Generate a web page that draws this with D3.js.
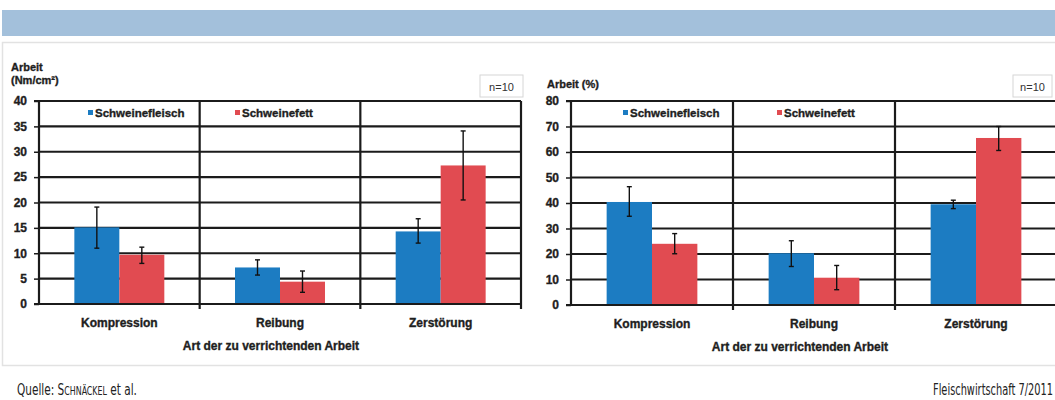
<!DOCTYPE html>
<html><head><meta charset="utf-8">
<script src="https://cdn.jsdelivr.net/npm/d3@7/dist/d3.min.js"></script>
<style>
html,body{margin:0;padding:0;background:#fff;}
svg{display:block;}
</style></head>
<body>
<svg id="c" width="1055" height="400"></svg>
<script>
const categories = ["Kompression", "Reibung", "Zerstörung"];
const seriesNames = ["Schweinefleisch", "Schweinefett"];
// Left chart: Arbeit (Nm/cm²)
const absFleisch = [15.1, 7.2, 14.3];
const absFleischErr = [[11.0, 19.1], [5.7, 8.7], [12.0, 16.8]];
const absFett = [9.7, 4.4, 27.3];
const absFettErr = [[8.0, 11.2], [2.3, 6.5], [20.5, 34.1]];
const absTicks = [0, 5, 10, 15, 20, 25, 30, 35, 40];
// Right chart: Arbeit (%)
const pctFleisch = [40.4, 20.3, 39.5];
const pctFleischErr = [[34.8, 46.4], [15.1, 25.2], [37.8, 41.1]];
const pctFett = [24.0, 10.7, 65.5];
const pctFettErr = [[20.1, 28.0], [6.0, 15.5], [60.6, 70.0]];
const pctTicks = [0, 10, 20, 30, 40, 50, 60, 70, 80];

const colors = {"Schweinefleisch": "#1c7cc2", "Schweinefett": "#e14b51"};
const svg = d3.select("#c");
const bold = "'Liberation Sans', Arial, sans-serif";
function heavy(sel) {
  return sel.attr("font-family", bold).attr("font-weight", "bold").attr("fill", "#1e1e1e")
    .attr("stroke", "#1e1e1e").attr("stroke-width", 0.35);
}

// header band and panel frame
svg.append("rect").attr("x", 2).attr("y", 10).attr("width", 1053).attr("height", 26).attr("fill", "#a3c0db");
svg.append("path").attr("d", "M1055,42.5H2.5V365.5H1055").attr("fill", "none").attr("stroke", "#e2e2e2").attr("stroke-width", 1.5);

function chart(opt) {
  const g = svg.append("g");
  const x0 = d3.scaleBand().domain(categories).range([opt.x0, opt.x1]).padding(0);
  const x1 = d3.scaleBand().domain(seriesNames).range([x0.bandwidth() * 0.22, x0.bandwidth() * 0.78]).padding(0);
  const y = d3.scaleLinear().domain([0, opt.max]).range([opt.yb, opt.yt]);

  // horizontal gridlines
  g.append("g").selectAll("line").data(opt.ticks.filter(t => t > 0)).join("line")
    .attr("x1", opt.x0).attr("x2", opt.x1).attr("y1", d => y(d)).attr("y2", d => y(d))
    .attr("stroke", "#1b1b1b").attr("stroke-width", 2.2);
  // vertical separators
  const seps = categories.map(c => x0(c) + x0.bandwidth());
  g.append("g").selectAll("line").data(seps).join("line")
    .attr("x1", d => d).attr("x2", d => d).attr("y1", opt.yt).attr("y2", opt.yb + 5)
    .attr("stroke", "#1b1b1b").attr("stroke-width", 2.2);

  // bars
  const data = categories.map((c, i) => ({c, vals: [
    {s: seriesNames[0], v: opt.a[i], e: opt.ae[i]},
    {s: seriesNames[1], v: opt.b[i], e: opt.be[i]}]}));
  const grp = g.append("g").selectAll("g").data(data).join("g")
    .attr("transform", d => `translate(${x0(d.c)},0)`);
  grp.selectAll("rect").data(d => d.vals).join("rect")
    .attr("x", d => x1(d.s)).attr("width", x1.bandwidth())
    .attr("y", d => y(d.v)).attr("height", d => y(0) - y(d.v))
    .attr("fill", d => colors[d.s]);
  // error bars
  const eb = grp.selectAll("g.eb").data(d => d.vals).join("g").attr("class", "eb")
    .attr("transform", d => `translate(${x1(d.s) + x1.bandwidth() / 2},0)`);
  eb.append("line").attr("x1", 0).attr("x2", 0).attr("y1", d => y(d.e[0])).attr("y2", d => y(d.e[1]))
    .attr("stroke", "#111").attr("stroke-width", 1.4);
  eb.selectAll("line.cap").data(d => d.e).join("line").attr("class", "cap")
    .attr("x1", -2.5).attr("x2", 2.5).attr("y1", d => y(d)).attr("y2", d => y(d))
    .attr("stroke", "#111").attr("stroke-width", 1.4);

  // y axis
  const ya = g.append("g").attr("transform", `translate(${opt.x0},0)`)
    .call(d3.axisLeft(y).tickValues(opt.ticks).tickSize(5).tickPadding(7));
  ya.select(".domain").attr("stroke", "#1b1b1b").attr("stroke-width", 2.2).attr("d", `M-5,${opt.yt}H0V${opt.yb}H-5`);
  ya.selectAll(".tick line").attr("stroke", "#1b1b1b").attr("stroke-width", 1.5);
  heavy(ya.selectAll("text")).attr("font-size", 12);
  // baseline
  g.append("line").attr("x1", opt.x0 - 5).attr("x2", opt.x1).attr("y1", y(0)).attr("y2", y(0))
    .attr("stroke", "#1b1b1b").attr("stroke-width", 2.2);

  // category labels
  heavy(g.append("g").selectAll("text").data(categories).join("text")
    .attr("x", d => x0(d) + x0.bandwidth() / 2).attr("y", opt.yb + 23)
    .attr("text-anchor", "middle")).attr("font-size", 12).text(d => d);
  heavy(g.append("text").attr("x", opt.titleX).attr("y", opt.yb + 46).attr("text-anchor", "middle"))
    .attr("font-size", 12).text("Art der zu verrichtenden Arbeit");

  // legend
  seriesNames.forEach((s, i) => {
    const lx = opt.legX[i];
    g.append("rect").attr("x", lx).attr("y", opt.yt + 9).attr("width", 5).attr("height", 5).attr("fill", colors[s]);
    heavy(g.append("text").attr("x", lx + 7).attr("y", opt.yt + 16)).attr("font-size", 11.5).text(s);
  });

  // n=10 box
  g.append("rect").attr("x", opt.nx).attr("y", 75).attr("width", opt.nw).attr("height", 22)
    .attr("fill", "#fff").attr("stroke", "#d6d6d6").attr("stroke-width", 1);
  g.append("text").attr("x", opt.nx + opt.nw / 2).attr("y", 90.5).attr("text-anchor", "middle")
    .attr("font-family", bold).attr("font-size", 11).attr("fill", "#333").text("n=10");

  // y title
  opt.yTitle.forEach((t, i) => {
    heavy(g.append("text").attr("x", opt.ytX).attr("y", opt.ytY + i * 13)).attr("font-size", 11).text(t);
  });
}

chart({x0: 39, x1: 521, yt: 101, yb: 304, max: 40, ticks: absTicks,
  a: absFleisch, ae: absFleischErr, b: absFett, be: absFettErr,
  legX: [88, 235], nx: 480, nw: 43, yTitle: ["Arbeit", "(Nm/cm²)"], ytX: 11, ytY: 71, titleX: 271});
chart({x0: 571, x1: 1057, yt: 101, yb: 305, max: 80, ticks: pctTicks,
  a: pctFleisch, ae: pctFleischErr, b: pctFett, be: pctFettErr,
  legX: [623, 777], nx: 1013, nw: 39, yTitle: ["Arbeit (%)"], ytX: 547, ytY: 88, titleX: 800});

// footer: condensed text squeezed horizontally to the reference width
const narrow = "'Liberation Sans Narrow', 'DejaVu Sans Condensed', sans-serif";
function footer(x, target, build) {
  const t = svg.append("text").attr("x", 0).attr("y", 0).attr("font-family", narrow)
    .attr("font-size", 16).attr("fill", "#222");
  build(t);
  const w = t.node().getComputedTextLength();
  t.attr("transform", `translate(${x},395) scale(${target / w},1)`);
}
footer(17, 120, t => {
  t.append("tspan").text("Quelle: S");
  t.append("tspan").attr("font-size", 12).text("CHNÄCKEL");
  t.append("tspan").attr("font-size", 16).text(" et al.");
});
footer(933, 120, t => t.text("Fleischwirtschaft 7/2011"));
</script>
</body></html>
